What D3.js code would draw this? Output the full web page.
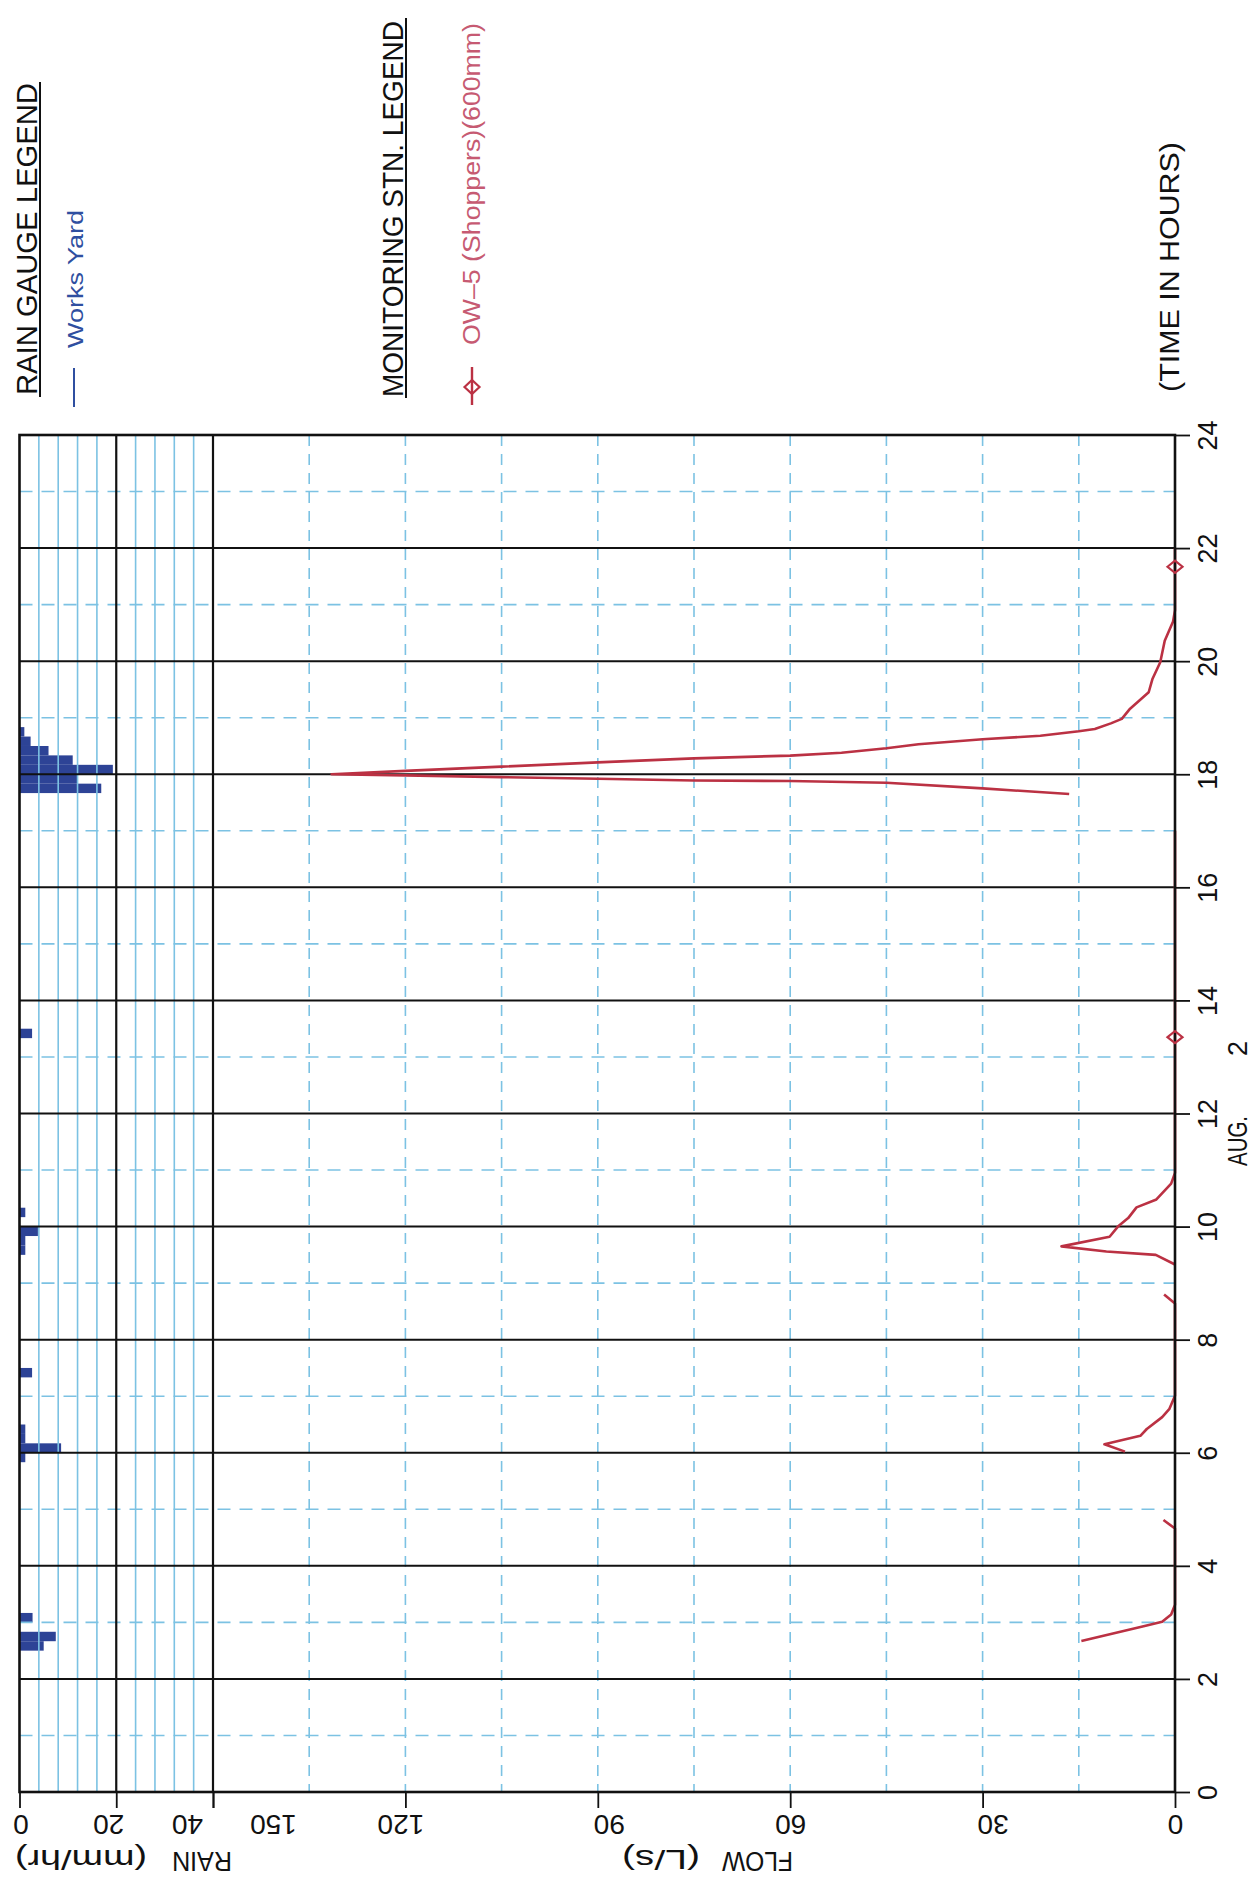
<!DOCTYPE html>
<html>
<head>
<meta charset="utf-8">
<script src="https://cdn.jsdelivr.net/npm/d3@7"></script>
<style>
html, body { margin: 0; padding: 0; background: #ffffff; }
svg { display: block; }
text { font-family: "Liberation Sans", Arial, sans-serif; }
</style>
</head>
<body>
<svg id="chart" width="1258" height="1891"></svg>
<script>
// ---------------- data ----------------
const timeTicks = [0, 2, 4, 6, 8, 10, 12, 14, 16, 18, 20, 22, 24];
const flowTicks = [0, 30, 60, 90, 120, 150];
const rainTicks = [0, 20, 40];

// rain (Works Yard), 10-minute bins: start hour and intensity mm/hr
const rainStart = [2.5, 2.667, 3.0, 5.833, 6.0, 6.167, 6.333, 7.333, 9.5, 9.667, 9.833, 10.167, 13.333,
                   17.667, 17.833, 18.0, 18.167, 18.333, 18.5, 18.667];
const rainValue = [5.0, 7.5, 2.7, 1.2, 8.6, 1.2, 1.2, 2.6, 1.2, 1.2, 3.8, 1.2, 2.6,
                   16.9, 11.9, 19.3, 11.0, 6.0, 2.3, 1.0];

// flow OW-5 (Shoppers)(600mm), L/s ; null = gap in record
const flowTime = [2.67, 2.93, 3.01, 3.14, 3.31, 4.66, 4.81, 4.9,
                  6.02, 6.15, 6.30, 6.42, 6.63, 6.77, 7.01, 8.64, 8.80, 8.9,
                  9.33, 9.50, 9.56, 9.65, 9.82, 10.00, 10.15, 10.34, 10.48, 10.76, 10.95, 13.35, 17.0, 17.3,
                  17.65, 17.75, 17.85, 17.88, 17.89, 17.92, 17.95, 17.98, 18.00, 18.06, 18.135, 18.21, 18.28,
                  18.33, 18.38, 18.46, 18.53, 18.62, 18.68, 18.76, 18.80, 18.90, 18.98, 19.16, 19.45, 19.69,
                  19.98, 20.36, 20.70, 20.90, 21.67, 22.0];
const flowValue = [14.6, 4.9, 2.0, 0.6, 0, 0, 1.8, null,
                   7.8, 11.0, 5.4, 4.4, 2.0, 0.9, 0, 0, 1.7, null,
                   0, 3.0, 10.7, 17.7, 10.2, 8.9, 7.3, 6.0, 2.9, 0.6, 0, 0, 0, null,
                   16.5, 30, 45, 60, 75, 90, 105, 120, 131.5, 120, 105, 90, 75,
                   60, 52, 45, 40, 30, 21, 15, 12.5, 10, 8.3, 7.0, 4.1, 3.5,
                   2.3, 1.6, 0.3, 0, 0, 0];
const markerTime = [13.35, 21.67];
const markerFlow = [0, 0];

// ---------------- drawing ----------------
const svg = d3.select("#chart");
const L = 19.5, R = 1175, T = 435, B = 1792, SEP = 213;
const yT = d3.scaleLinear().domain([0, 24]).range([B, T]);
const xF = d3.scaleLinear().domain([0, 150]).range([R, SEP]);
const xR = d3.scaleLinear().domain([0, 40]).range([L, SEP]);

const BLUE_GRID = "#7cc2e3";
const RED = "#bb3143";
const RED_TEXT = "#c65a72";
const RAIN_BLUE = "#2d4396";

// rain bars
const binH = 1 / 6;
svg.append("g").selectAll("rect").data(rainStart).join("rect")
  .attr("x", xR(0))
  .attr("width", (d, i) => xR(rainValue[i]) - xR(0))
  .attr("y", d => yT(d + binH))
  .attr("height", d => yT(d) - yT(d + binH))
  .attr("fill", RAIN_BLUE);

const grid = svg.append("g");
// rain minor solid light-blue verticals
grid.selectAll("line.rv").data(d3.range(4, 40, 4).filter(v => v !== 20)).join("line")
  .attr("x1", d => xR(d)).attr("x2", d => xR(d)).attr("y1", T).attr("y2", B)
  .attr("stroke", BLUE_GRID).attr("stroke-width", 1.6);
// flow dashed verticals
grid.selectAll("line.fv").data(d3.range(15, 150, 15)).join("line")
  .attr("x1", d => xF(d)).attr("x2", d => xF(d)).attr("y1", T).attr("y2", B)
  .attr("stroke", BLUE_GRID).attr("stroke-width", 1.6).attr("stroke-dasharray", "11,8");
// odd-hour dashed horizontals
grid.selectAll("line.th").data(d3.range(1, 24, 2)).join("line")
  .attr("x1", L).attr("x2", R).attr("y1", d => yT(d)).attr("y2", d => yT(d))
  .attr("stroke", BLUE_GRID).attr("stroke-width", 1.6).attr("stroke-dasharray", "13,9");
// even-hour black horizontals
grid.selectAll("line.eh").data(d3.range(2, 24, 2)).join("line")
  .attr("x1", L).attr("x2", R).attr("y1", d => yT(d)).attr("y2", d => yT(d))
  .attr("stroke", "#111").attr("stroke-width", 2);
// black verticals: rain 20 and rain/flow separator
grid.selectAll("line.bv").data([20, 40]).join("line")
  .attr("x1", d => xR(d)).attr("x2", d => xR(d)).attr("y1", T).attr("y2", B)
  .attr("stroke", "#111").attr("stroke-width", 2.2);

// flow line
const line = d3.line()
  .defined((d, i) => flowValue[i] !== null)
  .x((d, i) => xF(flowValue[i]))
  .y(d => yT(d));
svg.append("path").datum(flowTime)
  .attr("d", line)
  .attr("fill", "none").attr("stroke", RED).attr("stroke-width", 2.6)
  .attr("stroke-linejoin", "round");

// border
svg.append("rect").attr("x", L).attr("y", T).attr("width", R - L).attr("height", B - T)
  .attr("fill", "none").attr("stroke", "#111").attr("stroke-width", 2.6);

// markers
const diamond = (cx, cy, hw, hh) => `M${cx - hw},${cy} L${cx},${cy - hh} L${cx + hw},${cy} L${cx},${cy + hh} Z`;
svg.append("g").selectAll("path").data(markerTime).join("path")
  .attr("d", (d, i) => diamond(xF(markerFlow[i]), yT(d), 7.5, 6))
  .attr("fill", "none").attr("stroke", RED).attr("stroke-width", 2.2);

// time axis (right)
const gT = svg.append("g").attr("transform", `translate(${R},0)`)
  .call(d3.axisRight(yT).tickValues(timeTicks).tickSize(15).tickSizeOuter(0));
gT.select(".domain").remove();
gT.selectAll(".tick line").attr("stroke", "#111").attr("stroke-width", 1.8);
gT.selectAll(".tick text")
  .attr("x", null).attr("dy", null)
  .attr("transform", "translate(33,0) rotate(-90)")
  .attr("text-anchor", "middle").attr("dominant-baseline", "central")
  .attr("font-size", 27).attr("fill", "#111")
  .style("font-family", '"Liberation Sans", Arial, sans-serif');

// flow axis (bottom)
const flowOff = {0: 0, 30: 10, 60: 0, 90: 11, 120: -5, 150: 60};
const gF = svg.append("g").attr("transform", `translate(0,${B})`)
  .call(d3.axisBottom(xF).tickValues(flowTicks).tickSize(16).tickSizeOuter(0));
gF.select(".domain").remove();
gF.selectAll(".tick line").attr("stroke", "#111").attr("stroke-width", 1.8);
gF.selectAll(".tick text")
  .attr("y", null).attr("dy", null)
  .attr("transform", d => `translate(${flowOff[d] || 0},23) rotate(180)`)
  .attr("text-anchor", "middle")
  .attr("font-size", 28).attr("fill", "#111")
  .style("font-family", '"Liberation Sans", Arial, sans-serif');

// rain axis (bottom)
const rainOff = {0: 1, 20: -8, 40: -26};
const gR = svg.append("g").attr("transform", `translate(0,${B})`)
  .call(d3.axisBottom(xR).tickValues(rainTicks).tickSize(16).tickSizeOuter(0));
gR.select(".domain").remove();
gR.selectAll(".tick line").attr("stroke", "#111").attr("stroke-width", 1.8);
gR.selectAll(".tick text")
  .attr("y", null).attr("dy", null)
  .attr("transform", d => `translate(${rainOff[d] || 0},23) rotate(180)`)
  .attr("text-anchor", "middle")
  .attr("font-size", 28).attr("fill", "#111")
  .style("font-family", '"Liberation Sans", Arial, sans-serif');

// helper for rotated text
function rtext(str, x, y, angle, size, color, len, anchor) {
  const t = svg.append("text")
    .attr("transform", `translate(${x},${y}) rotate(${angle})`)
    .attr("font-size", size).attr("fill", color)
    .attr("text-anchor", anchor || "start")
    .text(str);
  if (len) t.attr("textLength", len).attr("lengthAdjust", "spacingAndGlyphs");
  return t;
}

// axis titles (upside down)
rtext("RAIN", 232, 1852, 180, 28, "#111", 60);
rtext("(mm/hr)", 147, 1850, 180, 28, "#111", 132);
rtext("FLOW", 793, 1852, 180, 28, "#111", 71);
rtext("(L/s)", 700, 1850, 180, 28, "#111", 78);

// time title and date
rtext("(TIME IN HOURS)", 1179, 392, -90, 28, "#111", 250);
rtext("AUG.", 1247, 1166, -90, 27, "#111", 50);
rtext("2", 1247, 1056, -90, 27, "#111");

// legends
rtext("RAIN GAUGE LEGEND", 37, 395, -90, 30, "#111", 312);
svg.append("line").attr("x1", 40).attr("x2", 40).attr("y1", 82).attr("y2", 397)
  .attr("stroke", "#111").attr("stroke-width", 2);
rtext("Works Yard", 83, 348, -90, 22, "#2f4fa0", 138);
svg.append("line").attr("x1", 74).attr("x2", 74).attr("y1", 368).attr("y2", 407)
  .attr("stroke", "#2f4fa0").attr("stroke-width", 2);

rtext("MONITORING STN. LEGEND", 403, 397, -90, 29, "#111", 376);
svg.append("line").attr("x1", 406).attr("x2", 406).attr("y1", 18).attr("y2", 398)
  .attr("stroke", "#111").attr("stroke-width", 2);
rtext("OW\u20135 (Shoppers)(600mm)", 480, 345, -90, 23, RED_TEXT, 322);
svg.append("line").attr("x1", 472).attr("x2", 472).attr("y1", 367).attr("y2", 405)
  .attr("stroke", RED).attr("stroke-width", 2.4);
svg.append("path").attr("d", diamond(472, 387, 7.5, 7))
  .attr("fill", "none").attr("stroke", RED).attr("stroke-width", 2.2);
</script>
</body>
</html>
